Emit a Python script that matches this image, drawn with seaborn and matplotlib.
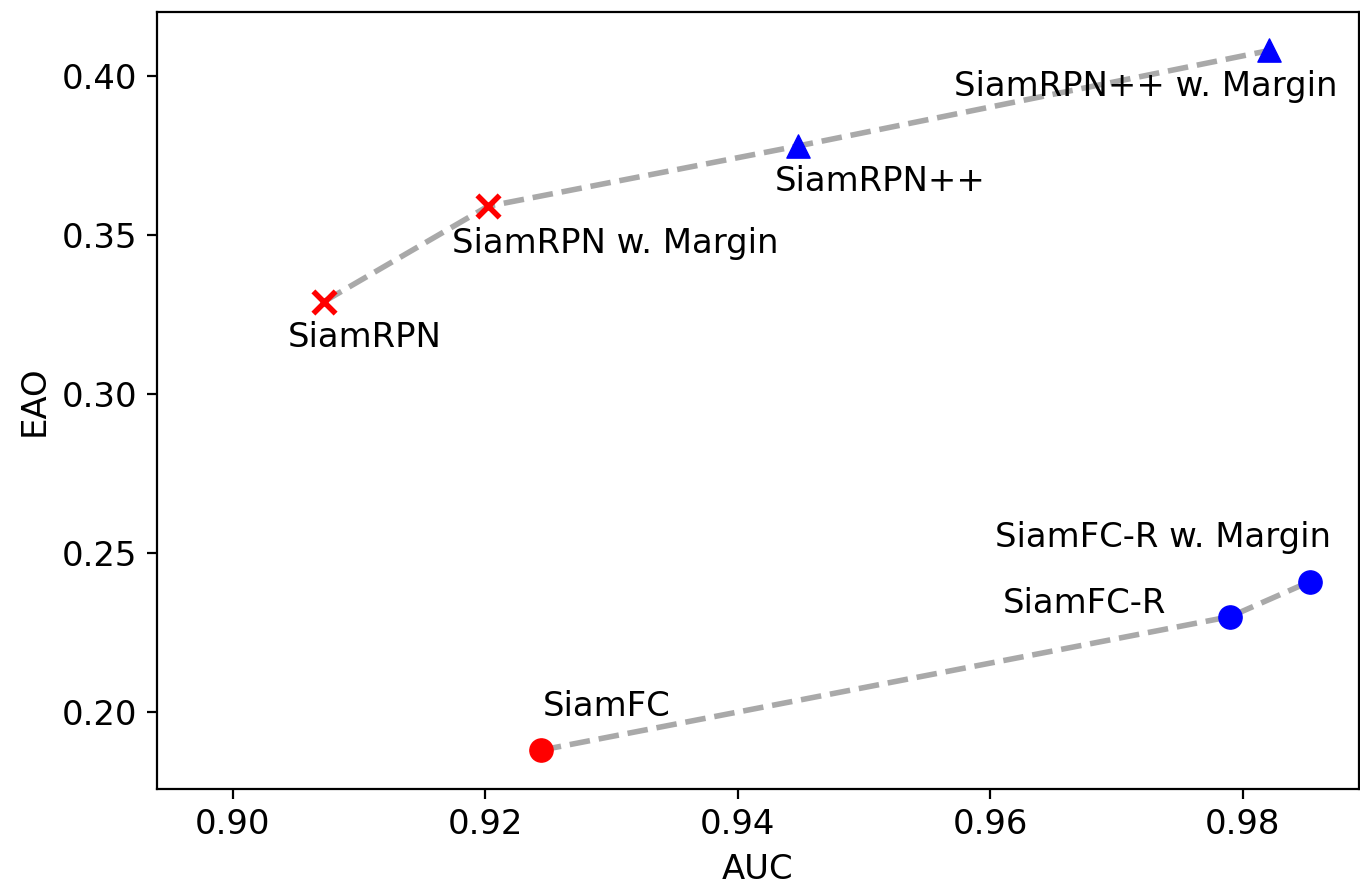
import matplotlib
matplotlib.use("Agg")
import matplotlib.pyplot as plt
import seaborn as sns
import pandas as pd

# ---- data ----
names = ["SiamRPN", "SiamRPN w. Margin", "SiamRPN++", "SiamRPN++ w. Margin",
         "SiamFC", "SiamFC-R", "SiamFC-R w. Margin"]
auc = [0.9072, 0.9202, 0.9448, 0.9821, 0.9244, 0.9790, 0.9853]
eao = [0.329, 0.359, 0.378, 0.408, 0.188, 0.230, 0.241]
group = ["RPN", "RPN", "RPN", "RPN", "FC", "FC", "FC"]
kind = ["rpn", "rpn", "rpnpp", "rpnpp", "fc", "fcr", "fcr"]

df = pd.DataFrame({"name": names, "AUC": auc, "EAO": eao, "group": group, "kind": kind})

# ---- styles ----
kind_style = {
    "rpn": dict(color="red", marker="x"),
    "rpnpp": dict(color="blue", marker="^"),
    "fc": dict(color="red", marker="o"),
    "fcr": dict(color="blue", marker="o"),
}
# label offsets in pixels (dx, dy) relative to point, y positive = up
label_offsets_px = [(-36, -36), (-36, -37), (-24, -36), (-315, -36),
                    (2, 44), (-227, 13), (-315, 44)]

DPI = 200
FS = 12.2
fig = plt.figure(figsize=(1360 / DPI, 889 / DPI), dpi=DPI)
ax = fig.add_axes([157 / 1360, 100 / 889, 1202 / 1360, 777 / 889])

sns.lineplot(data=df, x="AUC", y="EAO", units="group", estimator=None, sort=False,
             color="darkgray", linestyle="--", linewidth=2, ax=ax, zorder=1)

for k, st in kind_style.items():
    sub = df[df["kind"] == k]
    kw = dict(s=70, color=st["color"], marker=st["marker"], zorder=3, ax=ax, legend=False)
    if st["marker"] == "x":
        kw["linewidth"] = 2
        kw["s"] = 64
    else:
        kw["edgecolor"] = st["color"]
        kw["linewidth"] = 0.5
    sns.scatterplot(data=sub, x="AUC", y="EAO", **kw)

px2pt = 72 / DPI
for n, x, y, (dx, dy) in zip(names, auc, eao, label_offsets_px):
    ax.annotate(n, (x, y), xytext=(dx * px2pt, dy * px2pt), textcoords="offset points",
                ha="left", va="center", fontsize=FS)

ax.set_xlim(0.894, 0.9892)
ax.set_ylim(0.1758, 0.4201)
ax.set_xticks([0.90, 0.92, 0.94, 0.96, 0.98])
ax.set_yticks([0.20, 0.25, 0.30, 0.35, 0.40])
ax.set_xticklabels(["0.90", "0.92", "0.94", "0.96", "0.98"])
ax.set_yticklabels(["0.20", "0.25", "0.30", "0.35", "0.40"])
ax.tick_params(labelsize=FS)
ax.set_xlabel("AUC", fontsize=FS)
ax.set_ylabel("EAO", fontsize=FS)

fig.savefig("out.png", dpi=DPI)
